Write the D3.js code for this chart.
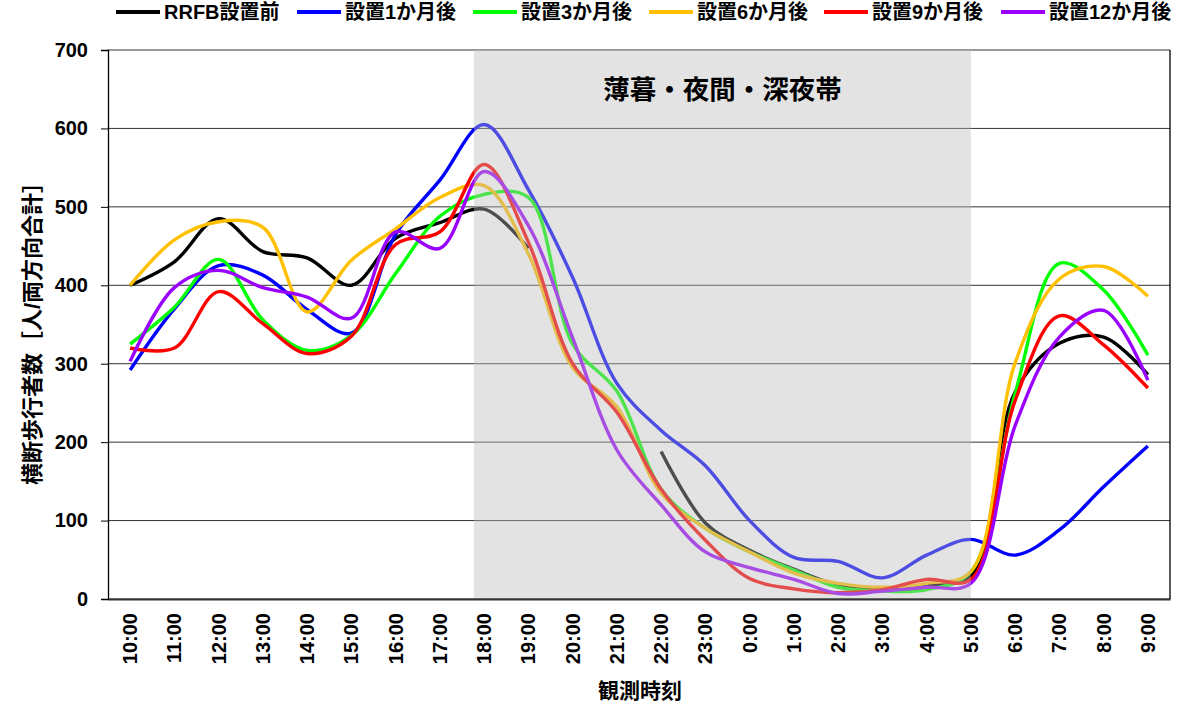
<!DOCTYPE html>
<html>
<head>
<meta charset="utf-8">
<script src="https://cdn.jsdelivr.net/npm/d3@7"></script>
<style>
  body { margin: 0; background: #fff; }
  text { font-family: "Liberation Sans", Arial, "Noto Sans CJK JP", sans-serif; font-weight: bold; }
</style>
</head>
<body>
<svg id="chart"></svg>
<script>
// categories (observation hour)
const hours = ["10:00","11:00","12:00","13:00","14:00","15:00","16:00","17:00","18:00","19:00","20:00","21:00",
	"22:00","23:00","0:00","1:00","2:00","3:00","4:00","5:00","6:00","7:00","8:00","9:00"];

const yTicks = [0, 100, 200, 300, 400, 500, 600, 700];

const seriesNames = ["RRFB設置前", "設置1か月後", "設置3か月後", "設置6か月後", "設置9か月後", "設置12か月後"];
const seriesColors = ["#000000", "#0000ff", "#00ff00", "#ffc000", "#ff0000", "#9900ff"];

// values (null = no data)
const before = [400, 430, 485, 443, 435, 400, 460, 480, 497, 447, null, null, 188, 97, 62, 38, 18, 14, 18, 30, 264, 326, 334, 286];
const month1 = [292, 370, 425, 413, 369, 339, 465, 534, 605, 522, 410, 275, 215, 170, 100, 53, 48, 27, 56, 76, 56, 88, 143, 195];
const month3 = [325, 372, 433, 356, 317, 336, 415, 488, 516, 512, 325, 265, 140, 90, 60, 37, 15, 10, 12, 35, 262, 428, 394, 311];
const month6 = [400, 458, 481, 474, 366, 432, 472, 512, 527, 440, 295, 245, 135, 90, 60, 33, 20, 15, 20, 35, 301, 408, 424, 386];
const month9 = [320, 320, 392, 351, 313, 335, 452, 468, 554, 455, 300, 238, 140, 75, 26, 13, 8, 12, 25, 25, 253, 361, 324, 269];
const month12 = [303, 397, 419, 397, 385, 358, 468, 447, 545, 476, 333, 190, 120, 60, 40, 25, 7, 10, 15, 20, 221, 334, 368, 279];

const allSeries = [before, month1, month3, month6, month9, month12];

const shadeFrom = "18:00", shadeTo = "5:00";
const shadeLabel = "薄暮・夜間・深夜帯";

const W = 1189, H = 705;
const margin = { top: 50, right: 19, bottom: 106, left: 108 };
const width = W - margin.left - margin.right;
const height = H - margin.top - margin.bottom;

const root = d3.select("#chart").attr("width", W).attr("height", H);
const svg = root.append("g").attr("transform", `translate(${margin.left}, ${margin.top})`);

const x = d3.scaleBand().domain(hours).range([0, width]);
const cx = h => x(h) + x.bandwidth() / 2;
const y = d3.scaleLinear().domain([0, 700]).range([height, 0]);

// grid lines
svg.append("g")
	.selectAll("line")
	.data(yTicks)
	.enter()
	.append("line")
	.attr("x1", 0).attr("x2", width)
	.attr("y1", d => y(d)).attr("y2", d => y(d))
	.attr("stroke", "#333")
	.attr("stroke-width", 1);

// Y axis
const yAxis = svg.append("g")
	.call(d3.axisLeft(y).tickValues(yTicks).tickSize(7).tickPadding(13));
yAxis.select(".domain").attr("stroke", "#000").attr("stroke-width", 1.3);
yAxis.selectAll(".tick line").attr("stroke", "#000");
yAxis.selectAll("text").style("font-size", "20px").attr("fill", "#000");

// X axis
const xAxis = svg.append("g")
	.attr("transform", `translate(0, ${height})`)
	.call(d3.axisBottom(x).tickSize(0).tickPadding(0));
xAxis.select(".domain").attr("stroke", "#333").attr("stroke-width", 2);
xAxis.selectAll("text")
	.style("font-size", "20px")
	.attr("fill", "#000")
	.attr("transform", "translate(0,14) rotate(-90)")
	.attr("dy", "0.35em")
	.attr("x", 0).attr("y", 0)
	.style("text-anchor", "end");

// right border
svg.append("line")
	.attr("x1", width).attr("x2", width)
	.attr("y1", 0).attr("y2", height)
	.attr("stroke", "#000").attr("stroke-width", 1.3);

// lines
const line = d3.line()
	.defined(d => d.v !== null)
	.x(d => cx(d.h))
	.y(d => y(d.v))
	.curve(d3.curveCatmullRom.alpha(0.5));

allSeries.forEach((vals, i) => {
	svg.append("path")
		.datum(hours.map((h, j) => ({ h: h, v: vals[j] })))
		.attr("fill", "none")
		.attr("stroke", seriesColors[i])
		.attr("stroke-width", 3.4)
		.attr("stroke-linejoin", "round")
		.attr("d", line);
});

// shaded period (drawn over the lines, semi-transparent)
const sx0 = x(shadeFrom) + x.bandwidth() * 0.27;
const sx1 = cx(shadeTo);
svg.append("rect")
	.attr("x", sx0).attr("y", 0)
	.attr("width", sx1 - sx0).attr("height", height - 1)
	.attr("fill", "#bcbcbc")
	.attr("fill-opacity", 0.41);

svg.append("text")
	.attr("x", (sx0 + sx1) / 2)
	.attr("y", 49)
	.attr("text-anchor", "middle")
	.style("font-size", "26.5px")
	.text(shadeLabel);

// axis titles
root.append("text")
	.attr("transform", `translate(32, 328) rotate(-90)`)
	.attr("text-anchor", "middle")
	.attr("dy", "0.35em")
	.style("font-size", "22px")
	.text("横断歩行者数［人/両方向合計］");

root.append("text")
	.attr("x", 640)
	.attr("y", 698)
	.attr("text-anchor", "middle")
	.style("font-size", "21px")
	.text("観測時刻");

// legend
const legendX = [116, 297, 473, 649, 824, 1001];
const legend = root.append("g");
seriesNames.forEach((name, i) => {
	const g = legend.append("g").attr("transform", `translate(${legendX[i]}, 12)`);
	g.append("line")
		.attr("x1", 0).attr("x2", 44)
		.attr("stroke", seriesColors[i])
		.attr("stroke-width", 4);
	g.append("text")
		.attr("x", 48)
		.attr("dy", "0.35em")
		.style("font-size", "20px")
		.text(name);
});
</script>
</body>
</html>
